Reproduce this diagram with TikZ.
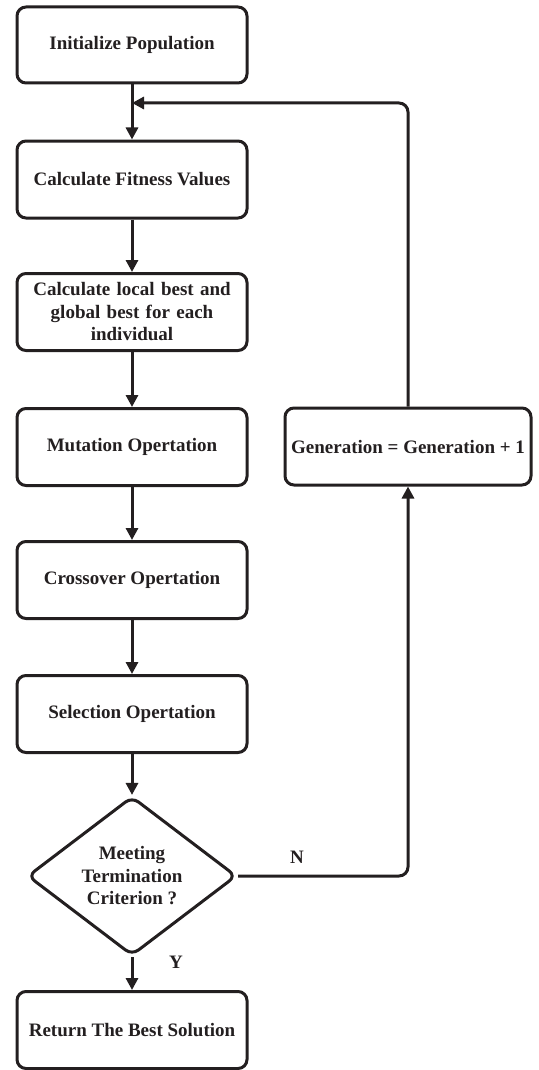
\documentclass[tikz,border=0pt]{standalone}
\usepackage{fontspec}
\setmainfont{Liberation Serif}
\usetikzlibrary{shapes.geometric,arrows.meta}
\definecolor{ink}{HTML}{231F20}
\tikzset{
  every node/.style={font=\fontsize{19}{22.5}\selectfont\bfseries, text=ink},
  procbox/.style={draw=ink, line width=3pt, rounded corners=9pt, minimum width=230pt,
    minimum height=77pt, align=center, inner sep=2pt},
  decbox/.style={draw=ink, line width=3pt, diamond, rounded corners=8pt,
    minimum width=209pt, minimum height=132pt, inner sep=0pt, align=center},
  flow/.style={draw=ink, line width=3pt, -{Triangle[length=12pt,width=12pt]}},
  lbl/.style={font=\fontsize{19}{22.5}\selectfont\bfseries}
}
\begin{document}
\begin{tikzpicture}[x=1pt,y=-1pt]
  \useasboundingbox (0,0) rectangle (538,1070);
  % main column of steps
  \node[procbox, minimum height=76pt] (init) at (132,45) {Initialize Population};
  \node[procbox] (fit)  at (132,179.5) {Calculate Fitness Values};
  \node[procbox, text width=222pt] (best) at (132,312) {Calculate local best and\\global best for each\\individual};
  \node[procbox] (mut)  at (132,447) {Mutation Opertation};
  \node[procbox] (cross) at (132,580) {Crossover Opertation};
  \node[procbox] (sel)  at (132,714) {Selection Opertation};
  \node[decbox] (term) at (132,876) {Meeting\\Termination\\Criterion ?};
  \node[procbox] (ret)  at (132,1030) {Return The Best Solution};
  % generation counter on the loop branch
  \node[procbox, minimum width=246pt] (gen) at (408,446.5) {Generation = Generation + 1};

  % junction where the loop re-enters the main column
  \coordinate (join) at (132,103);

  \draw[flow] (init) -- (fit);
  \draw[flow] (fit) -- (best);
  \draw[flow] (best) -- (mut);
  \draw[flow] (mut) -- (cross);
  \draw[flow] (cross) -- (sel);
  \draw[flow] (sel) -- (term);
  \draw[flow] (term) -- (ret);
  \draw[flow, rounded corners=9pt] (term.east) -| (gen.south);
  \draw[flow, rounded corners=9pt] (gen.north) |- (join);

  \node[lbl] (nlab) at (297,857) {N};
  \node[lbl] (ylab) at (176,962) {Y};
\end{tikzpicture}
\end{document}
